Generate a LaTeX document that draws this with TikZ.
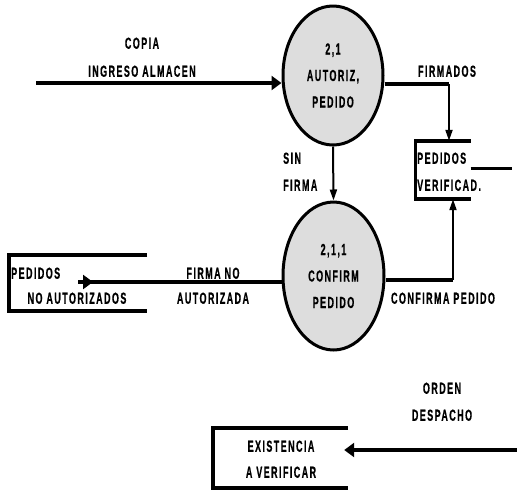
\documentclass[tikz,border=0pt]{standalone}
\usepackage{fontspec}
\usetikzlibrary{shapes.geometric,arrows.meta}
\newfontfamily\dfdfont{Liberation Sans Bold}[FakeStretch=0.56,LetterSpace=9,FakeBold=0.6]
\definecolor{procfill}{RGB}{221,221,221}
\tikzset{
  lbl/.style={font=\dfdfont\fontsize{16}{16}\selectfont, inner sep=0pt, text height=11.5pt, text depth=0pt},
  proc/.style={ellipse, draw, line width=3pt, fill=procfill, inner sep=0pt,
    align=center, font=\dfdfont\fontsize{16}{26.5}\selectfont},
  storebox/.style={rectangle, inner sep=0pt},
  storeline/.style={line width=3.5pt},
  mainflow/.style={line width=4.5pt, -{Triangle[length=10pt,width=14pt]}},
  thinflow/.style={line width=2pt, -{Triangle[length=11pt,width=7pt]}},
}
\begin{document}
\begin{tikzpicture}[x=1pt,y=-1pt]
\useasboundingbox (0,0) rectangle (517,491);

% processes
\node[proc, minimum width=100pt, minimum height=139pt] (p1) at (333,75.5) {2,1\\AUTORIZ,\\PEDIDO};
\node[proc, minimum width=101pt, minimum height=148pt] (p2) at (333.5,276) {2,1,1\\CONFIRM\\PEDIDO};

% data stores (open on the right)
\node[storebox, minimum width=55pt, minimum height=58pt] (s1) at (443,170) {};
\node[storebox, minimum width=138pt, minimum height=56pt] (s2) at (78,283) {};
\node[storebox, minimum width=135pt, minimum height=60pt] (s3) at (280.5,458) {};
\foreach \s in {s1,s2,s3}
  \draw[storeline] (\s.north east) -- (\s.north west) -- (\s.south west) -- (\s.south east);
\coordinate (s1tailA) at (470.7,168);
\coordinate (s1tailB) at (512,168);
\draw[line width=3pt] (s1tailA) -- (s1tailB);

% store texts
\node[lbl, anchor=west] (t1a) at (417,158) {PEDIDOS};
\node[lbl, anchor=west] (t1b) at (417,185) {VERIFICAD.};
\node[lbl, anchor=west] (t2a) at (11,273) {PEDIDOS};
\node[lbl] (t2b) at (77,298) {NO AUTORIZADOS};
\node[lbl] (t3a) at (281,446) {EXISTENCIA};
\node[lbl] (t3b) at (281,472) {A VERIFICAR};

% external flow ends
\coordinate (inA) at (36,83);
\coordinate (outB) at (517,450);

% flows
\draw[mainflow] (inA) -- (inA -| p1.west);
\coordinate (f1) at (449,84);
\draw[line width=4pt] (p1.east |- f1) -- (f1);
\draw[thinflow] (f1) -- (f1 |- s1.north);
\draw[thinflow] (p1.south) -- (p2.north);
\coordinate (f2) at (453,280);
\draw[line width=4pt] (p2.east |- f2) -- (f2);
\draw[thinflow] (f2) -- (f2 |- s1.south);
\draw[mainflow] (p2.west |- 0,282) -- (s2.center |- 0,282) -- ++(15,0);
\draw[mainflow] (outB) -- (s3.east |- outB) -- ++(-4,0);

% flow labels
\node[lbl] (l1a) at (142,43) {COPIA};
\node[lbl] (l1b) at (142,71) {INGRESO ALMACEN};
\node[lbl] (l2) at (447,71) {FIRMADOS};
\node[lbl, anchor=west] (l3a) at (283,158) {SIN};
\node[lbl, anchor=west] (l3b) at (283,185) {FIRMA};
\node[lbl] (l4) at (443,298) {CONFIRMA PEDIDO};
\node[lbl] (l5a) at (213,273) {FIRMA NO};
\node[lbl] (l5b) at (213,298) {AUTORIZADA};
\node[lbl] (l6a) at (442,388) {ORDEN};
\node[lbl] (l6b) at (442,415) {DESPACHO};
\end{tikzpicture}
\end{document}
